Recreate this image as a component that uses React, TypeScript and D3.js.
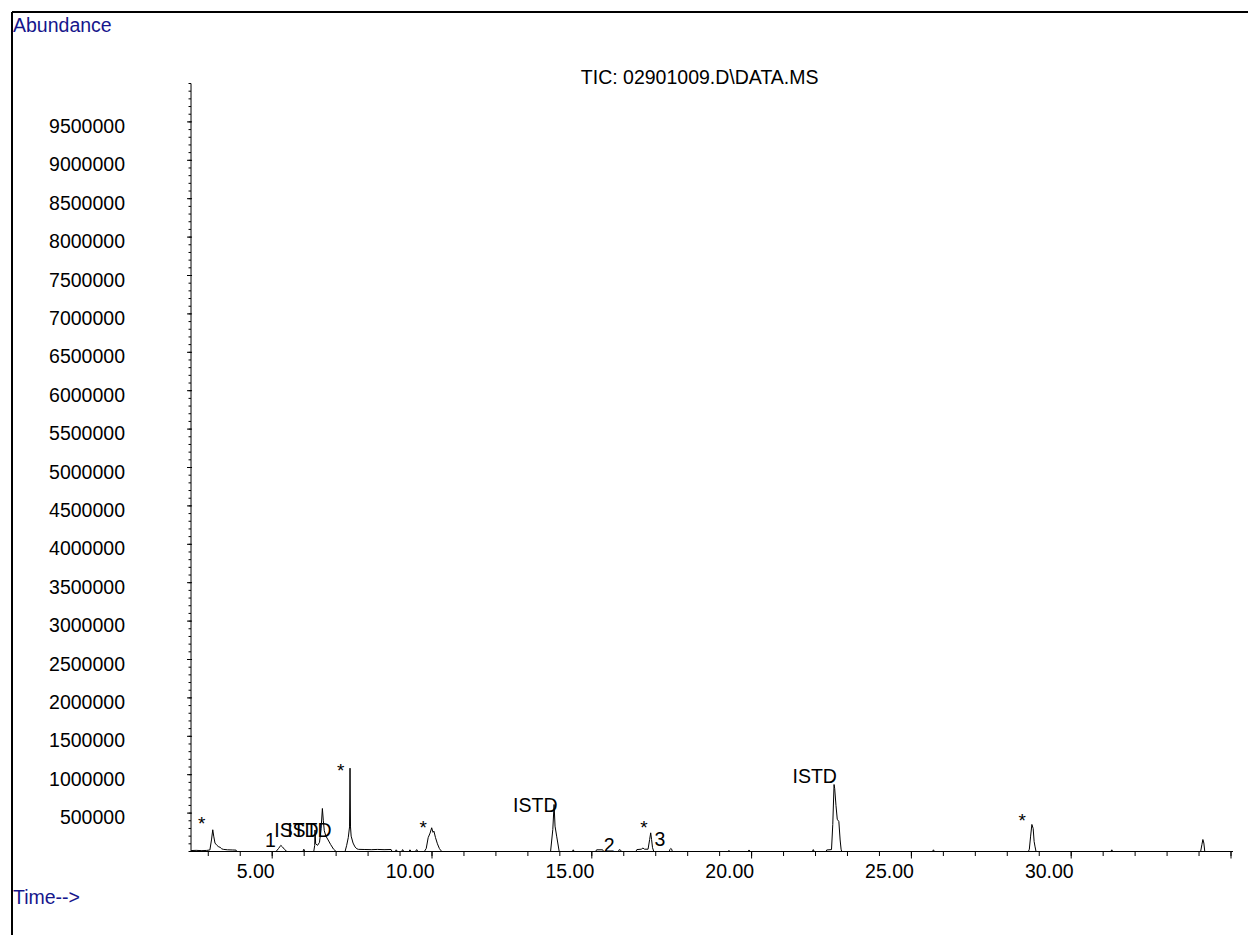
import React from 'react';
import * as d3 from 'd3';

// Total ion chromatogram for run 02901009
const title = 'TIC: 02901009.D\\DATA.MS';
const yAxisTitle = 'Abundance';
const xAxisTitle = 'Time-->';

const timeDomain: [number, number] = [2.46, 35.06];
const abundanceTop = 10000000;

const abundanceTicks = d3.range(500000, 9500001, 500000);
const abundanceMinorTicks = d3.range(0, 10000001, 100000);
const timeTicks = [5, 10, 15, 20, 25, 30, 35];
const timeTickLabels = [5, 10, 15, 20, 25, 30];
const timeMinorTicks = d3.range(3, 36, 1);

// [retention time (min), abundance]
const tic: [number, number][] = [
  [2.46, 12000], [2.62, 15000], [2.8, 11000], [2.95, 14000], [3.05, 20000],
  [3.1, 150000], [3.14, 283000], [3.17, 200000], [3.21, 110000], [3.27, 80000],
  [3.33, 60000], [3.37, 55000], [3.42, 35000], [3.47, 28000], [3.6, 22000],
  [3.75, 20000], [3.87, 18000], [3.89, 0],
  [5.12, 0], [5.2, 40000], [5.27, 80000], [5.32, 60000], [5.39, 25000], [5.46, 0],
  [5.96, 0], [5.99, 30000], [6.02, 0],
  [6.3, 0], [6.33, 80000], [6.34, 280000], [6.36, 100000], [6.42, 80000],
  [6.48, 120000], [6.53, 300000], [6.57, 560000], [6.6, 400000], [6.63, 270000],
  [6.68, 200000], [6.75, 150000], [6.83, 90000], [6.92, 30000], [7.0, 0],
  [7.28, 0], [7.33, 80000], [7.38, 180000], [7.42, 320000], [7.435, 1085000],
  [7.45, 320000], [7.47, 200000], [7.53, 110000], [7.59, 60000], [7.65, 35000],
  [7.7, 28000], [7.9, 26000], [8.1, 24000], [8.3, 27000], [8.5, 24000],
  [8.72, 26000], [8.75, 0],
  [8.85, 0], [8.88, 22000], [8.92, 0], [9.05, 0], [9.08, 25000], [9.12, 0],
  [9.28, 0], [9.31, 22000], [9.35, 0], [9.48, 0], [9.52, 25000], [9.56, 0],
  [9.76, 0], [9.82, 40000], [9.88, 180000], [9.94, 240000], [9.99, 309000],
  [10.03, 250000], [10.06, 265000], [10.11, 180000], [10.17, 100000],
  [10.23, 40000], [10.28, 10000], [10.31, 0],
  [13.71, 0], [13.78, 286000], [13.82, 612000], [13.85, 330000], [13.9, 200000],
  [13.98, 0],
  [14.39, 0], [14.42, 22000], [14.45, 0],
  [15.12, 0], [15.15, 22000], [15.34, 22000], [15.37, 0],
  [15.83, 0], [15.86, 25000], [15.9, 18000], [15.93, 0],
  [16.38, 0], [16.41, 25000], [16.55, 30000], [16.6, 45000], [16.65, 30000],
  [16.76, 30000], [16.81, 156000], [16.843, 243000], [16.87, 156000],
  [16.9, 50000], [16.94, 0],
  [17.42, 0], [17.45, 30000], [17.47, 40000], [17.5, 30000], [17.52, 0],
  [19.27, 0], [19.29, 15000], [19.32, 0], [19.89, 0], [19.92, 20000], [19.95, 0],
  [21.9, 0], [21.93, 25000], [21.96, 0],
  [22.33, 0], [22.35, 20000], [22.5, 25000], [22.54, 351000], [22.58, 872000],
  [22.6, 820000], [22.64, 600000], [22.68, 420000], [22.73, 390000],
  [22.77, 150000], [22.8, 30000], [22.82, 0],
  [25.66, 0], [25.69, 22000], [25.72, 0],
  [28.66, 0], [28.69, 30000], [28.73, 200000], [28.77, 352000], [28.81, 300000],
  [28.84, 130000], [28.87, 60000], [28.9, 0],
  [31.24, 0], [31.27, 22000], [31.3, 0],
  [34.05, 0], [34.09, 90000], [34.12, 156000], [34.15, 110000], [34.18, 0],
  [35.06, 0],
];

// Flagged peaks (asterisks), anchored in data units
const starTimes = [2.794, 7.143, 9.728, 16.633, 28.47];
const starAbundances = [280000, 970000, 232000, 232000, 323000];

// Peak annotations
const peakLabelTexts = ['1', 'ISTD', 'ISTD', 'ISTD', 'ISTD', '2', '3'];
const peakLabelTimes = [4.947, 5.76, 6.164, 13.232, 21.975, 15.545, 17.134];
const peakLabelAbundances = [59000, 189000, 189000, 514000, 888000, 0, 72000];

const FONT = '"Liberation Sans", Arial, Helvetica, sans-serif';
const NAVY = '#16168c';

export default function App() {
  const width = 1248;
  const height = 935;

  const x = d3.scaleLinear().domain([5, 35]).range([272.2, 1231]);
  const y = d3.scaleLinear().domain([0, abundanceTop]).range([851.5, 83.5]);

  const line = d3
    .line<[number, number]>()
    .x((d) => x(d[0]))
    .y((d) => y(d[1]));

  const x0 = x(timeDomain[0]);
  const x1 = x(timeDomain[1]);
  const yBase = y(0);

  return (
    <svg
      width={width}
      height={height}
      style={{ position: 'absolute', left: 0, top: 0, display: 'block', background: '#fff' }}
      fontFamily={FONT}
    >
      {/* frame */}
      <line x1={12} y1={12} x2={width} y2={12} stroke="#000" strokeWidth={2} />
      <line x1={12} y1={12} x2={12} y2={height} stroke="#000" strokeWidth={2} />

      <text x={13} y={32} fontSize={19.5} fill={NAVY}>{yAxisTitle}</text>
      <text x={13} y={904} fontSize={19.5} fill={NAVY}>{xAxisTitle}</text>
      <text x={699.7} y={84} fontSize={19.5} fill="#000" textAnchor="middle">{title}</text>

      {/* abundance axis */}
      <line x1={x0} y1={y(abundanceTop)} x2={x0} y2={yBase} stroke="#000" strokeWidth={1} />
      {abundanceMinorTicks.map((v) => (
        <line key={'ym' + v} x1={x0 - 2.5} x2={x0} y1={y(v)} y2={y(v)} stroke="#000" strokeWidth={1} />
      ))}
      {abundanceTicks.map((v) => (
        <g key={'y' + v}>
          <line x1={x0 - 4} x2={x0 + 1} y1={y(v)} y2={y(v)} stroke="#000" strokeWidth={1} />
          <text x={125} y={y(v) + 11} fontSize={19.5} textAnchor="end" fill="#000">
            {String(v)}
          </text>
        </g>
      ))}

      {/* time axis */}
      <line x1={x0} y1={yBase} x2={x1} y2={yBase} stroke="#000" strokeWidth={1} />
      {timeMinorTicks.map((t) => (
        <line key={'xm' + t} x1={x(t)} x2={x(t)} y1={yBase} y2={yBase + 4.5} stroke="#000" strokeWidth={1} />
      ))}
      {timeTicks.map((t) => (
        <line key={'x' + t} x1={x(t)} x2={x(t)} y1={yBase} y2={yBase + 7} stroke="#000" strokeWidth={1} />
      ))}
      {timeTickLabels.map((t) => (
        <text key={'xl' + t} x={x(t) + 2.5} y={878} fontSize={19.5} textAnchor="end" fill="#000">
          {t.toFixed(2)}
        </text>
      ))}

      {/* chromatogram trace */}
      <path d={line(tic) || ''} fill="none" stroke="#000" strokeWidth={1} strokeLinejoin="round" />

      {starTimes.map((t, i) => (
        <text key={'s' + i} x={x(t)} y={y(starAbundances[i])} fontSize={19} textAnchor="middle" fill="#000">
          *
        </text>
      ))}
      {peakLabelTexts.map((s, i) => (
        <text
          key={'p' + i}
          x={x(peakLabelTimes[i])}
          y={y(peakLabelAbundances[i])}
          fontSize={19.5}
          textAnchor="middle"
          fill="#000"
        >
          {s}
        </text>
      ))}
    </svg>
  );
}
